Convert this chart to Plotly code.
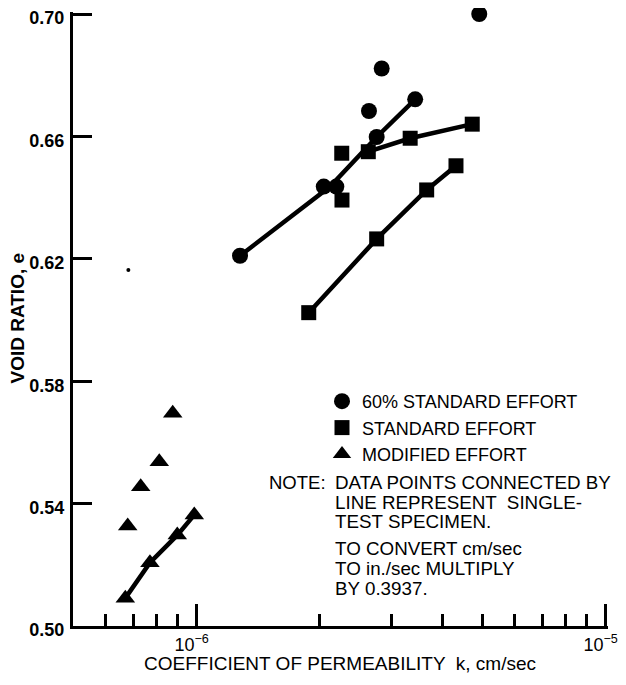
import plotly.graph_objects as go

# ---------------- data ----------------
# 60% standard effort (circles)
circle_k = [1.277e-6, 2.046e-6, 2.196e-6, 2.639e-6, 2.756e-6, 2.835e-6, 3.423e-6, 4.91e-6]
circle_e = [0.621, 0.6436, 0.6436, 0.6683, 0.6598, 0.6822, 0.6721, 0.700]

# standard effort (squares)
square_k = [2.264e-6, 2.629e-6, 3.328e-6, 4.72e-6, 2.267e-6, 1.880e-6, 2.756e-6, 3.652e-6, 4.307e-6]
square_e = [0.6545, 0.6550, 0.6594, 0.6640, 0.6392, 0.6024, 0.6265, 0.6425, 0.6504]

# modified effort (triangles)
triangle_k = [8.742e-7, 8.105e-7, 7.30e-7, 6.785e-7, 9.87e-7, 8.97e-7, 7.69e-7, 6.694e-7]
triangle_e = [0.5695, 0.5537, 0.5455, 0.5327, 0.5363, 0.5297, 0.5207, 0.5091]

# single-test specimens (connected by lines)
spec_circle_k = [1.277e-6, 2.12e-6, 2.756e-6, 3.423e-6]
spec_circle_e = [0.621, 0.6436, 0.6598, 0.6721]
spec_square1_k = [2.629e-6, 3.328e-6, 4.72e-6]
spec_square1_e = [0.6550, 0.6594, 0.6640]
spec_square2_k = [1.880e-6, 2.756e-6, 3.652e-6, 4.307e-6]
spec_square2_e = [0.6024, 0.6265, 0.6425, 0.6504]
spec_tri_k = [6.694e-7, 7.69e-7, 8.97e-7, 9.87e-7]
spec_tri_e = [0.5091, 0.5207, 0.5297, 0.5363]

# stray speck in the original
speck_k = [6.81e-7]
speck_e = [0.6163]

# axis ticks
x_major_vals = [1e-6, 1e-5]
x_major_text = ["10<sup>\u22126</sup>", "10<sup>\u22125</sup>"]
x_minor_vals = [6e-7, 7e-7, 8e-7, 9e-7, 2e-6, 3e-6, 4e-6, 5e-6, 6e-6, 7e-6, 8e-6, 9e-6]
y_tick_vals = [0.50, 0.54, 0.58, 0.62, 0.66, 0.70]
y_tick_text = ["0.50", "0.54", "0.58", "0.62", "0.66", "0.70"]

legend_names = ["60% STANDARD EFFORT", "STANDARD EFFORT", "MODIFIED EFFORT"]
note_lines = [
    "DATA POINTS CONNECTED BY",
    "LINE REPRESENT  SINGLE-",
    "TEST SPECIMEN.",
    "TO CONVERT cm/sec",
    "TO in./sec MULTIPLY",
    "BY 0.3937.",
]

# ---------------- figure ----------------
FONT = "Liberation Sans"
fig = go.Figure()

line_style = dict(color="black", width=4.5)
for xs, ys in [(spec_circle_k, spec_circle_e), (spec_square1_k, spec_square1_e),
               (spec_square2_k, spec_square2_e), (spec_tri_k, spec_tri_e)]:
    fig.add_trace(go.Scatter(x=xs, y=ys, mode="lines", line=line_style,
                             showlegend=False, hoverinfo="skip", cliponaxis=False))

fig.add_trace(go.Scatter(x=circle_k, y=circle_e, mode="markers", name=legend_names[0],
                         cliponaxis=False,
                         marker=dict(symbol="circle", size=16, color="black")))
fig.add_trace(go.Scatter(x=square_k, y=square_e, mode="markers", name=legend_names[1],
                         cliponaxis=False,
                         marker=dict(symbol="square", size=15, color="black")))
fig.add_trace(go.Scatter(x=triangle_k, y=triangle_e, mode="markers", name=legend_names[2],
                         cliponaxis=False,
                         marker=dict(symbol="triangle-up", size=17, color="black")))
fig.add_trace(go.Scatter(x=speck_k, y=speck_e, mode="markers", showlegend=False,
                         cliponaxis=False,
                         marker=dict(symbol="circle", size=4, color="black"), hoverinfo="skip"))

# page body has an 8px margin, so the figure is sized to fit inside the window
OFF = 8
W, H = 626 - OFF, 685 - OFF
# plot area in window pixels (slightly larger than the 0.50-0.70 / 5e-7..1e-5 box,
# so the end ticks at 0.70 and 1e-5 are still drawn)
X0, X1, Y0, Y1 = 73, 608, 12, 626
DEC = 409.0          # pixels per decade
X_DEC6 = 196.6       # window x of 1e-6
E_PER_PX = 0.2 / 612.0
L, R, T, B = X0 - OFF, 626 - X1, Y0 - OFF, 685 - Y1
pw, ph = X1 - X0, Y1 - Y0
x_range = [-6 + (X0 - X_DEC6) / DEC, -6 + (X1 - X_DEC6) / DEC]
y_range = [0.50, 0.50 + (Y1 - Y0) * E_PER_PX]


def px(x):  # window pixel -> paper
    return (x - X0) / pw


def py(y):
    return (Y1 - y) / ph


annotations = []
annotations.append(dict(text="NOTE:", x=px(328), y=py(482), xref="paper", yref="paper",
                        xanchor="right", yanchor="middle", showarrow=False,
                        font=dict(family=FONT, size=18.5, color="black")))
note_y = [482, 502, 521, 548, 568, 588]
for txt, yy in zip(note_lines, note_y):
    annotations.append(dict(text=txt, x=px(333), y=py(yy), xref="paper", yref="paper",
                            xanchor="left", yanchor="middle", showarrow=False,
                            font=dict(family=FONT, size=18.8, color="black")))
annotations.append(dict(text="<b>VOID RATIO, e</b>", x=px(16.5), y=py(318), xref="paper", yref="paper",
                        xanchor="center", yanchor="middle", textangle=-90, showarrow=False,
                        font=dict(family=FONT, size=19, color="black")))
annotations.append(dict(text="COEFFICIENT OF PERMEABILITY  k, cm/sec", x=px(340), y=py(663),
                        xref="paper", yref="paper", xanchor="center", yanchor="middle",
                        showarrow=False, font=dict(family=FONT, size=19, color="black")))

fig.update_layout(
    width=W, height=H,
    margin=dict(l=L, r=R, t=T, b=B, pad=0, autoexpand=False),
    paper_bgcolor="white", plot_bgcolor="white",
    annotations=annotations,
    legend=dict(x=px(322), y=py(383), xanchor="left", yanchor="top",
                bgcolor="rgba(0,0,0,0)", borderwidth=0, itemsizing="trace",
                traceorder="normal",
                font=dict(family=FONT, size=18, color="black")),
    xaxis=dict(
        type="log", range=x_range, automargin=False,
        showgrid=False, zeroline=False,
        showline=True, linecolor="black", linewidth=3,
        tickmode="array", tickvals=x_major_vals, ticktext=x_major_text,
        ticks="inside", ticklen=22, tickwidth=2.5, tickcolor="black",
        ticklabeloverflow="allow", ticklabelshift=-5,
        tickfont=dict(family=FONT, size=18, color="black"),
        minor=dict(tickmode="array", tickvals=x_minor_vals, ticks="inside",
                   ticklen=12, tickwidth=2.5, tickcolor="black", showgrid=False),
    ),
    yaxis=dict(
        range=y_range, automargin=False,
        showgrid=False, zeroline=False,
        showline=True, linecolor="black", linewidth=3,
        tickmode="array", tickvals=y_tick_vals, ticktext=y_tick_text,
        ticks="inside", ticklen=19, tickwidth=2.5, tickcolor="black",
        ticklabeloverflow="allow", ticklabelstandoff=2, ticklabelshift=4,
        tickfont=dict(family=FONT, size=18, color="black", weight="bold"),
    ),
)

fig.write_html("out.html")
